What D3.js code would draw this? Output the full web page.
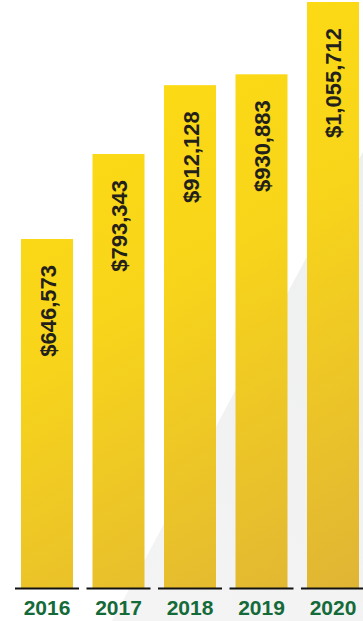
<!DOCTYPE html>
<html>
<head>
<meta charset="utf-8">
<script src="https://cdn.jsdelivr.net/npm/d3@7"></script>
<style>
  html, body { margin: 0; padding: 0; background: #ffffff; }
  svg { display: block; }
</style>
</head>
<body>
<svg id="chart" width="363" height="621"></svg>
<script>
// Annual totals
const years = ["2016", "2017", "2018", "2019", "2020"];
const totals = [646573, 793343, 912128, 930883, 1055712];

const W = 363, H = 621;
const baseY = 588;
const svg = d3.select("#chart");

const x = d3.scaleBand().domain(years).range([11.25, 368.75]).paddingInner(0.2727).paddingOuter(0.1364);
const y = d3.scaleLinear().domain([44000, 1055712]).range([baseY, 2]);

const defs = svg.append("defs");
const grad = defs.append("linearGradient")
  .attr("id", "barFill")
  .attr("gradientUnits", "userSpaceOnUse")
  .attr("x1", 0).attr("y1", 0).attr("x2", W).attr("y2", H);
grad.append("stop").attr("offset", "0%").attr("stop-color", "#ffde10");
grad.append("stop").attr("offset", "45%").attr("stop-color", "#f8d51a");
grad.append("stop").attr("offset", "100%").attr("stop-color", "#deb237");

const bgGrad = defs.append("linearGradient")
  .attr("id", "bgFill")
  .attr("gradientUnits", "userSpaceOnUse")
  .attr("x1", 120).attr("y1", H).attr("x2", W).attr("y2", 150);
bgGrad.append("stop").attr("offset", "0%").attr("stop-color", "#f4f4f4");
bgGrad.append("stop").attr("offset", "100%").attr("stop-color", "#eeefef");

// Faint diagonal backdrop
svg.append("path")
  .attr("d", d3.line()([[112, H], [365, 148], [W, H]]) + "Z")
  .attr("fill", "url(#bgFill)");

const bars = svg.append("g");
bars.selectAll("rect")
  .data(totals)
  .join("rect")
  .attr("x", (d, i) => x(years[i]))
  .attr("width", x.bandwidth())
  .attr("y", d => y(d))
  .attr("height", d => baseY - y(d))
  .attr("fill", "url(#barFill)");

// Baseline segments
svg.append("g").selectAll("line")
  .data(years)
  .join("line")
  .attr("x1", d => x(d) - 6)
  .attr("x2", d => x(d) + x.bandwidth() + 6)
  .attr("y1", baseY + 0.5).attr("y2", baseY + 0.5)
  .attr("stroke", "#111111")
  .attr("stroke-width", 2.2);

// Value labels inside bars
const fmt = d3.format("$,");
svg.append("g").selectAll("text")
  .data(totals)
  .join("text")
  .attr("transform", (d, i) => `translate(${x(years[i]) + x.bandwidth() / 2 + 1},${y(d) + 26}) rotate(-90)`)
  .attr("text-anchor", "end")
  .attr("dominant-baseline", "central")
  .attr("font-family", "Liberation Sans, Arial, sans-serif")
  .attr("font-weight", "bold")
  .attr("font-size", 22)
  .attr("fill", "#231f1a")
  .text(d => fmt(d));

// Year labels
svg.append("g").selectAll("text")
  .data(years)
  .join("text")
  .attr("x", d => x(d) + x.bandwidth() / 2)
  .attr("y", 615)
  .attr("text-anchor", "middle")
  .attr("font-family", "Liberation Sans, Arial, sans-serif")
  .attr("font-weight", "bold")
  .attr("font-size", 21)
  .attr("fill", "#156a39")
  .text(d => d);
</script>
</body>
</html>
